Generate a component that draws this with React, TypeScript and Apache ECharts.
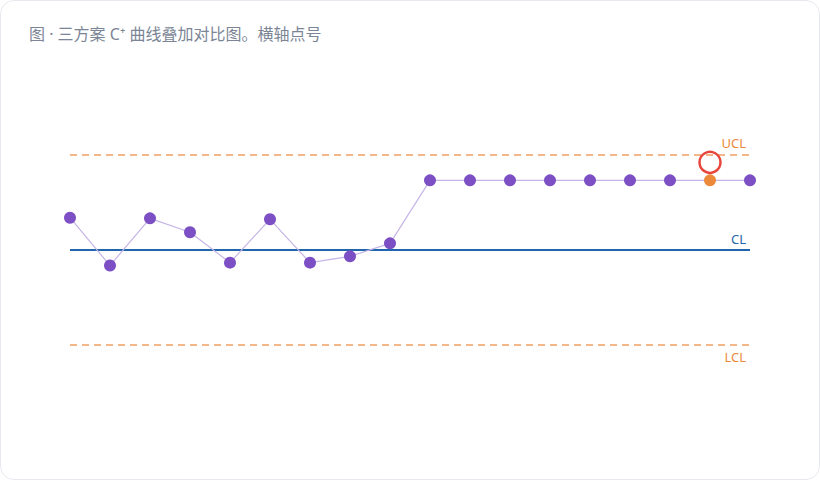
import { useEffect, useRef } from "react";
import * as echarts from "echarts";

const pointNo = [1, 2, 3, 4, 5, 6, 7, 8, 9, 10, 11, 12, 13, 14, 15, 16, 17, 18];
const cPlus = [1.02, -0.49, 1.0, 0.56, -0.4, 0.97, -0.4, -0.2, 0.21, 2.2, 2.2, 2.2, 2.2, 2.2, 2.2, 2.2, 2.2, 2.2];
const limits = { ucl: 3, cl: 0, lcl: -3 };
const alarmPoint = 17;

const FONT = "'Noto Sans', 'Noto Sans CJK SC', sans-serif";

export default function App() {
  const chartRef = useRef<HTMLDivElement>(null);

  useEffect(() => {
    if (!chartRef.current) return;
    const chart = echarts.init(chartRef.current, undefined, { renderer: "svg" });

    const data = pointNo.map((x, i) => {
      const item: any = { value: [x, cPlus[i]] };
      if (x === alarmPoint) item.itemStyle = { color: "#ec8a3c" };
      return item;
    });

    const option: echarts.EChartsOption = {
      animation: false,
      textStyle: { fontFamily: FONT },
      title: {
        text: "图 · 三方案 C⁺ 曲线叠加对比图。横轴点号",
        left: 24,
        top: 21,
        textStyle: {
          fontSize: 16,
          fontWeight: "normal",
          color: "#7b8595",
          fontFamily: FONT,
        },
      },
      grid: { left: 70, right: 70, top: 107.5, height: 285 },
      xAxis: {
        type: "value",
        min: 1,
        max: 18,
        show: false,
      },
      yAxis: {
        type: "value",
        min: -4.5,
        max: 4.5,
        show: false,
      },
      series: [
        {
          type: "line",
          data,
          symbol: "circle",
          symbolSize: 12,
          itemStyle: { color: "#7c4fc4" },
          lineStyle: { color: "#c6b5e6", width: 1.2 },
          z: 5,
          markLine: {
            silent: true,
            symbol: "none",
            data: [
              {
                yAxis: limits.ucl,
                lineStyle: { color: "#f0a064", type: [7, 5], width: 1.5 },
                label: {
                  formatter: "UCL",
                  position: "insideEndTop",
                  color: "#ec8a3c",
                  fontSize: 13,
                  distance: [4, 6],
                },
              },
              {
                yAxis: limits.cl,
                lineStyle: { color: "#1f66ad", type: "solid", width: 2 },
                label: {
                  formatter: "CL",
                  position: "insideEndTop",
                  color: "#1f66ad",
                  fontSize: 13,
                  distance: [4, 5],
                },
              },
              {
                yAxis: limits.lcl,
                lineStyle: { color: "#f0a064", type: [7, 5], width: 1.5 },
                label: {
                  formatter: "LCL",
                  position: "insideEndBottom",
                  color: "#ec8a3c",
                  fontSize: 13,
                  distance: [4, 5],
                },
              },
            ],
          },
          markPoint: {
            silent: true,
            symbol: "circle",
            symbolSize: 21,
            symbolOffset: [0, -18],
            label: { show: false },
            itemStyle: {
              color: "rgba(0,0,0,0)",
              borderColor: "#e8463c",
              borderWidth: 2.5,
            },
            data: [{ coord: [alarmPoint, cPlus[alarmPoint - 1]] }],
          },
        },
      ],
    };

    chart.setOption(option);
    return () => chart.dispose();
  }, []);

  return (
    <div style={{ position: "relative", width: 820, height: 480 }}>
      <style>{"body{margin:0;background:#fff;}"}</style>
      <div
        style={{
          position: "absolute",
          inset: 0,
          boxSizing: "border-box",
          border: "1px solid #e6e9ee",
          borderRadius: 14,
          background: "#fff",
        }}
      />
      <div
        ref={chartRef}
        style={{ position: "absolute", left: 0, top: 0, width: 820, height: 480 }}
      />
    </div>
  );
}
